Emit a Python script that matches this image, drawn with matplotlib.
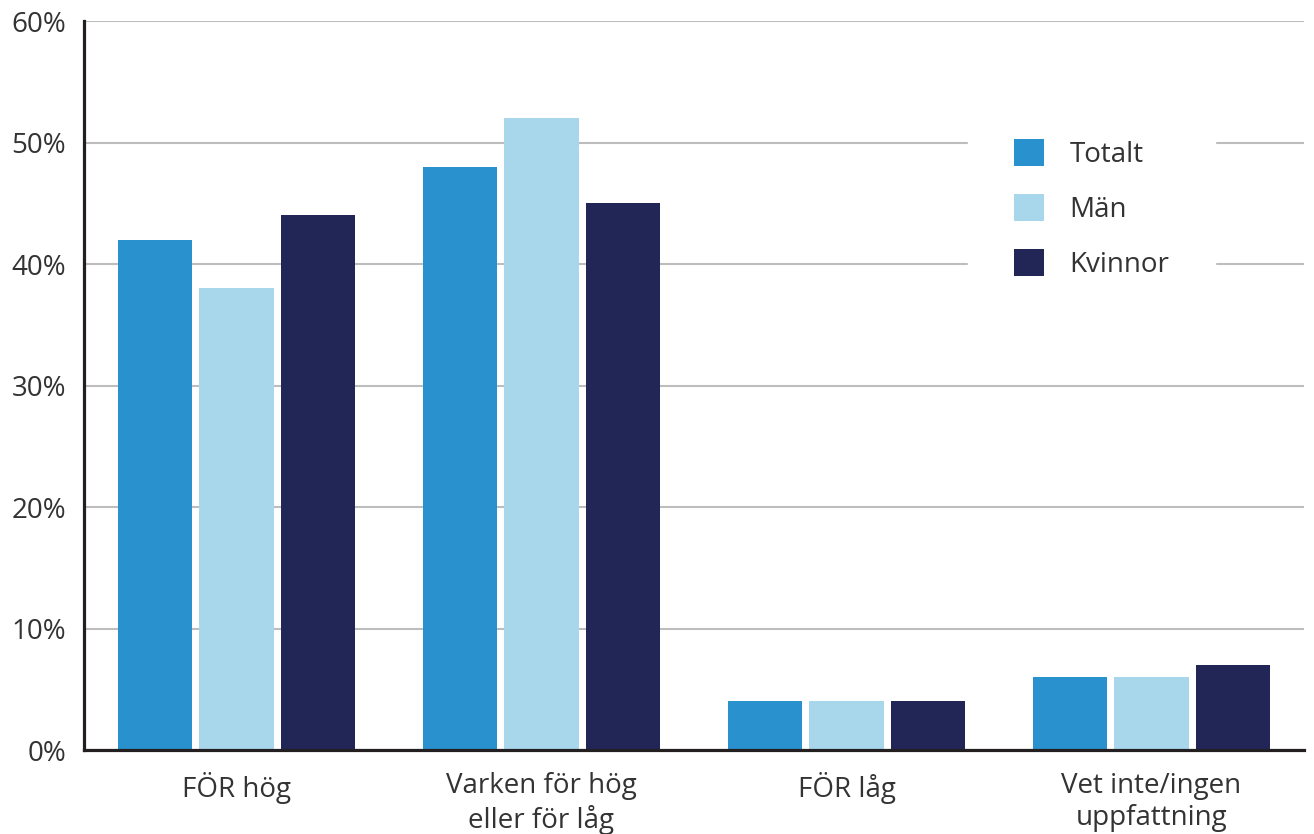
import matplotlib
matplotlib.use("Agg")
import matplotlib.pyplot as plt
from matplotlib.ticker import FuncFormatter
import numpy as np

categories = ["FÖR hög", "Varken för hög\neller för låg", "FÖR låg", "Vet inte/ingen\nuppfattning"]
series_names = ["Totalt", "Män", "Kvinnor"]
totalt = [42, 48, 4, 6]
man = [38, 52, 4, 6]
kvinnor = [44, 45, 4, 7]
colors = ["#2891CE", "#A8D7EC", "#212657"]

plt.rcParams['font.family'] = ['Open Sans', 'DejaVu Sans']

fig = plt.figure(figsize=(13.14, 8.34), dpi=100)
ax = fig.add_axes([0.0639, 0.1007, 0.9285, 0.8741])

x = np.arange(len(categories))
width = 0.243
step = 0.266
for i, (vals, name, c) in enumerate(zip([totalt, man, kvinnor], series_names, colors)):
    ax.bar(x + (i - 1) * step, vals, width=width, color=c, label=name, zorder=3)

ax.set_xlim(-0.5, 3.5)
ax.set_ylim(0, 60)
ax.set_yticks(range(0, 61, 10))
ax.yaxis.set_major_formatter(FuncFormatter(lambda v, p: f"{int(v)}%"))
ax.set_xticks(x)
ax.set_xticklabels(categories, linespacing=1.2)
ax.tick_params(axis='both', length=0, labelsize=20, colors="#333333")
ax.tick_params(axis='x', pad=16)
ax.tick_params(axis='y', pad=13)
ax.grid(axis='y', color="#BDBDBD", linewidth=1.5, zorder=0)
ax.set_axisbelow(True)
for s in ["top", "right"]:
    ax.spines[s].set_visible(False)
for s in ["left", "bottom"]:
    ax.spines[s].set_color("#231F20")
    ax.spines[s].set_linewidth(2.3)
    ax.spines[s].set_zorder(4)

leg = ax.legend(loc='center left', bbox_to_anchor=(0.7246, 0.742), frameon=True,
                fontsize=20, handlelength=1.1, handleheight=1.1, handletextpad=0.9,
                labelspacing=0.9, borderpad=1.65, borderaxespad=0, fancybox=False)
leg.get_frame().set_facecolor("white")
leg.get_frame().set_edgecolor("white")
leg.get_frame().set_alpha(1)
for t in leg.get_texts():
    t.set_color("#333333")

fig.savefig("out.png", dpi=100)
